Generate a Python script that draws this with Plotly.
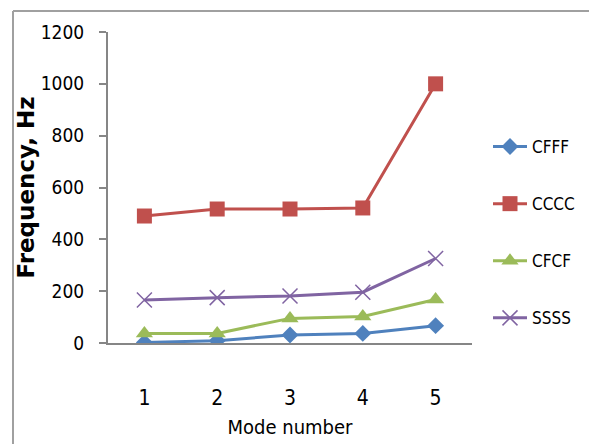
import plotly.graph_objects as go

modes = [1, 2, 3, 4, 5]
tick_labels = ["1", "2", "3", "4", "5"]
cfff = [2, 9, 31, 37, 67]
cccc = [490, 517, 517, 521, 1000]
cfcf = [37, 37, 95, 102, 168]
ssss = [166, 175, 181, 196, 326]

y_ticks = [0, 200, 400, 600, 800, 1000, 1200]

FONT = "DejaVu Sans Condensed, Liberation Sans Narrow, Arial Narrow, Roboto, sans-serif"

series = [
    ("CFFF", cfff, "#4F81BD", "diamond", 13),
    ("CCCC", cccc, "#C0504D", "square", 15),
    ("CFCF", cfcf, "#9BBB59", "triangle-up", 15),
    ("SSSS", ssss, "#8064A2", "x-thin-open", 15),
]

fig = go.Figure()
for name, vals, color, sym, size in series:
    marker = dict(symbol=sym, size=size, color=color)
    if sym == "x-thin-open":
        marker["line"] = dict(color=color, width=1.5)
    fig.add_trace(go.Scatter(
        x=tick_labels, y=vals, name=name, mode="lines+markers",
        line=dict(color=color, width=3), marker=marker,
        legendgroup=name,
    ))

# page body has an 8px margin; compensate
OFF = 8
L, R, T, B = 108 - OFF, 125, 32 - OFF, 101
W, H = 597 - OFF, 444 - OFF
pw, ph = W - L - R, H - T - B

def px_x(x):
    return (x - OFF - L) / pw

def px_y(y):
    return (H - B - (y - OFF)) / ph

fig.update_layout(
    width=W, height=H,
    margin=dict(l=L, r=R, t=T, b=B, autoexpand=False),
    paper_bgcolor="white", plot_bgcolor="white",
    font=dict(family=FONT, color="#000000"),
    showlegend=True,
    legend=dict(
        x=px_x(488), y=px_y(129), xanchor="left", yanchor="top",
        font=dict(family=FONT, size=17, color="#000000"),
        tracegroupgap=32, bgcolor="rgba(0,0,0,0)",
        itemwidth=34,
    ),
    xaxis=dict(
        type="category", range=[-0.5, 4.5],
        showline=True, linecolor="#868686", linewidth=2,
        showgrid=False, zeroline=False, ticks="",
        tickfont=dict(family=FONT, size=21, color="#000000"),
        ticklabelstandoff=35,
        title=dict(text="Mode number", font=dict(family=FONT, size=20, color="#000000"), standoff=11),
        automargin=False,
    ),
    yaxis=dict(
        range=[0, 1200], tickvals=y_ticks,
        showline=True, linecolor="#868686", linewidth=2,
        showgrid=False, zeroline=False,
        ticks="outside", ticklen=7, tickcolor="#868686", tickwidth=2,
        tickfont=dict(family=FONT, size=19, color="#000000"),
        ticklabelstandoff=11,
        title=dict(text="Frequency, Hz", font=dict(family="DejaVu Sans, Arial, sans-serif", size=23, color="#000000", weight="bold"), standoff=0),
        automargin=False,
    ),
    shapes=[
        dict(type="line", xref="paper", yref="paper",
             x0=px_x(13), x1=px_x(13), y0=px_y(11), y1=px_y(460),
             line=dict(color="#A0A0A0", width=2)),
        dict(type="line", xref="paper", yref="paper",
             x0=px_x(13), x1=px_x(610), y0=px_y(11), y1=px_y(11),
             line=dict(color="#A0A0A0", width=2)),
    ],
)

fig.write_html("out.html")
